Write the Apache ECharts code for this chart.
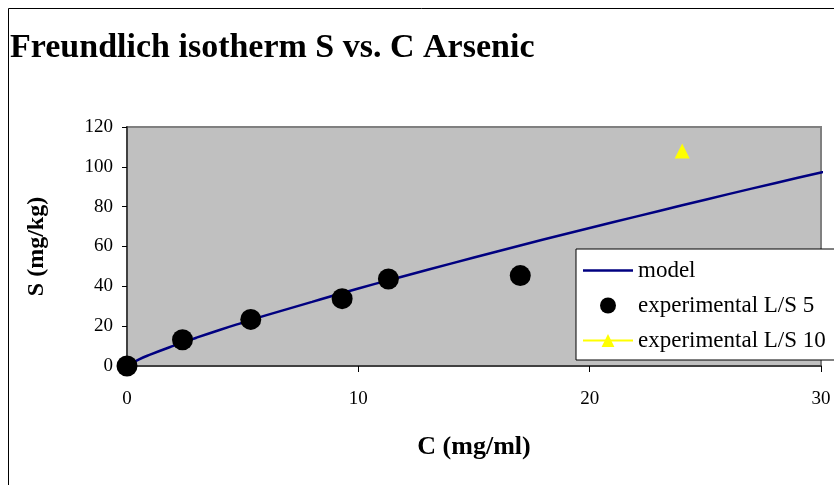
<!DOCTYPE html>
<html>
<head>
<meta charset="utf-8">
<script src="https://cdn.jsdelivr.net/npm/echarts@6/dist/echarts.min.js"></script>
<style>
  html, body { margin: 0; padding: 0; background: #fff; }
  #main { width: 834px; height: 485px; }
</style>
</head>
<body>
<div id="main"></div>
<script>
// model curve
var modelC = [0, 0.5, 1, 2, 3, 4, 5, 6, 8, 10, 12, 14, 16, 18, 20, 22, 24, 26, 28, 30, 30.6];
var modelS = [0, 3.2, 5.7, 10.1, 14.2, 18.1, 21.8, 25.4, 32.2, 38.9, 45.2, 51.4, 57.5, 63.5, 69.3, 75.0, 80.7, 86.3, 91.8, 97.2, 98.8];
// experimental points
var ls5C = [0, 2.4, 5.35, 9.3, 11.3, 17.0];
var ls5S = [0, 13.2, 23.4, 33.8, 43.7, 45.4];
var ls10C = [24.0];
var ls10S = [108];

function pairs(xs, ys) {
  return xs.map(function (x, i) { return [x, ys[i]]; });
}

var chart = echarts.init(document.getElementById('main'));
var serif = '"Liberation Serif", "Times New Roman", serif';

var option = {
  backgroundColor: '#fff',
  animation: false,
  textStyle: { fontFamily: serif },
  title: {
    text: 'Freundlich isotherm S vs. C Arsenic',
    left: 5,
    top: 26,
    textStyle: { fontFamily: serif, fontSize: 34, fontWeight: 'bold', color: '#000' }
  },
  graphic: [{
    type: 'rect',
    shape: { x: 8.5, y: 8.5, width: 900, height: 600 },
    style: { fill: null, stroke: '#000', lineWidth: 1 },
    z: -1
  }],
  grid: {
    left: 127, right: 13, top: 127, bottom: 119,
    show: true,
    backgroundColor: '#c0c0c0',
    borderColor: '#808080',
    borderWidth: 2
  },
  legend: {
    left: 576,
    top: 249,
    orient: 'vertical',
    backgroundColor: '#fff',
    borderColor: '#000',
    borderWidth: 1,
    padding: [10, 40, 8, 6],
    itemWidth: 50,
    itemHeight: 16,
    itemGap: 12,
    textStyle: { fontFamily: serif, fontSize: 23, color: '#000' },
    data: [
      { name: 'model', icon: 'path://M0,0 L50,0 L50,2.5 L0,2.5 Z' },
      'experimental L/S 5',
      'experimental L/S 10'
    ]
  },
  xAxis: {
    type: 'value',
    min: 0, max: 30, interval: 10,
    name: 'C (mg/ml)',
    nameLocation: 'middle',
    nameGap: 68,
    nameTextStyle: { fontFamily: serif, fontSize: 26, fontWeight: 'bold', color: '#000' },
    axisLine: { show: true, lineStyle: { color: '#404040', width: 2 } },
    axisTick: { show: true, length: 6, lineStyle: { color: '#000' } },
    axisLabel: { fontFamily: serif, fontSize: 19, color: '#000', margin: 24 },
    splitLine: { show: false }
  },
  yAxis: {
    type: 'value',
    min: 0, max: 120, interval: 20,
    name: 'S (mg/kg)',
    nameLocation: 'middle',
    nameGap: 78,
    nameTextStyle: { fontFamily: serif, fontSize: 24, fontWeight: 'bold', color: '#000' },
    axisLine: { show: true, lineStyle: { color: '#404040', width: 2 } },
    axisTick: { show: true, length: 5, lineStyle: { color: '#000' } },
    axisLabel: { fontFamily: serif, fontSize: 19, color: '#000', margin: 14 },
    splitLine: { show: false }
  },
  series: [
    {
      name: 'model',
      type: 'line',
      data: pairs(modelC, modelS),
      smooth: true,
      showSymbol: false,
      symbol: 'none',
      clip: false,
      lineStyle: { color: '#000080', width: 2.5 },
      itemStyle: { color: '#000080' },
      z: 2
    },
    {
      name: 'experimental L/S 5',
      type: 'scatter',
      data: pairs(ls5C, ls5S),
      symbol: 'circle',
      symbolSize: 21,
      itemStyle: { color: '#000', opacity: 1 },
      z: 3
    },
    {
      name: 'experimental L/S 10',
      type: 'line',
      data: pairs(ls10C, ls10S),
      symbol: 'triangle',
      symbolSize: 15,
      showSymbol: true,
      lineStyle: { color: '#ffff00', width: 2 },
      itemStyle: { color: '#ffff00' },
      z: 3
    }
  ]
};

chart.setOption(option);
</script>
</body>
</html>
